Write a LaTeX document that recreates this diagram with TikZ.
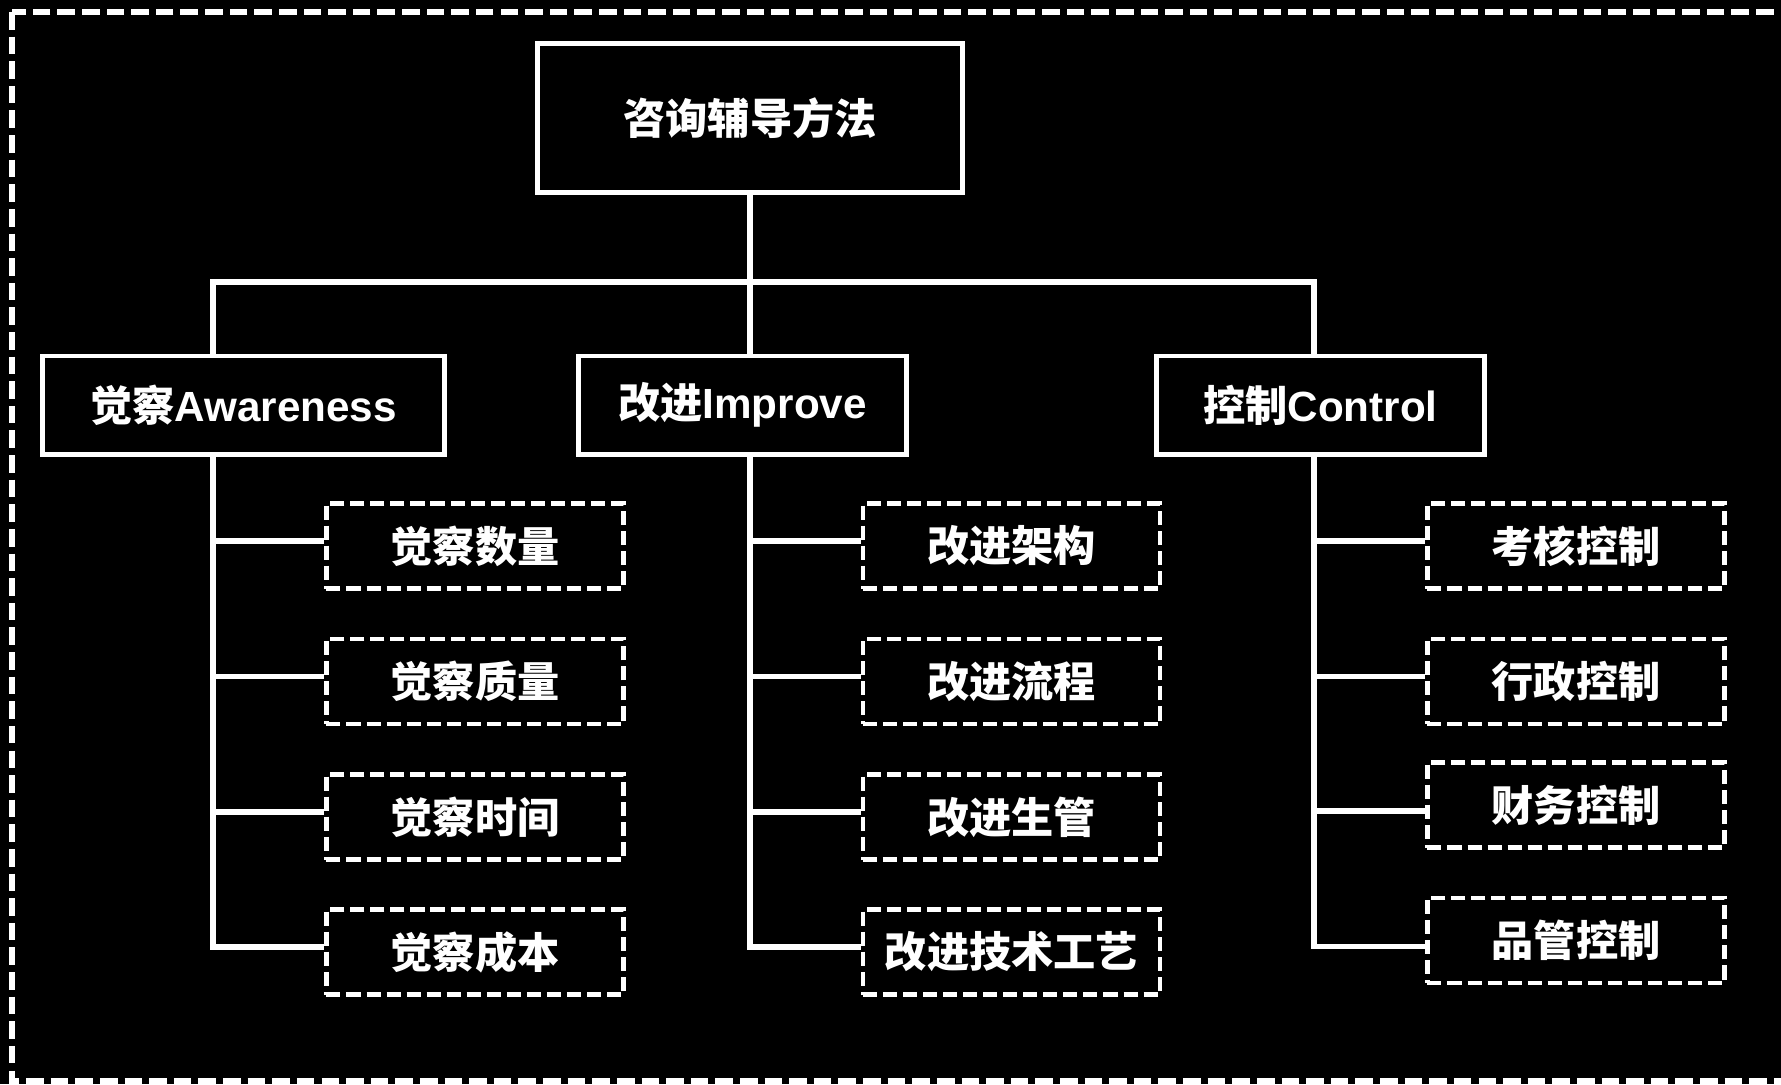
\documentclass[tikz,border=0pt]{standalone}
\usepackage{fontspec}
\setmainfont{Liberation Sans}
\newfontfamily\cjk{Noto Sans CJK SC}
\usepackage{tikz}

\begin{document}
\begin{tikzpicture}[x=0.01cm, y=-0.01cm, white, line width=1.5pt, line join=miter,
    every node/.style={text=white, font=\fontsize{12}{14}\selectfont\bfseries, inner sep=0pt},
    rootbox/.style={draw=white, fill=black, line width=1.4pt, minimum width=4.24cm, minimum height=1.49cm},
    mainbox/.style={draw=white, fill=black, line width=1.4pt, minimum height=0.98cm},
    subbox/.style={draw=white, fill=black, line width=1.25pt, dash pattern=on 4pt off 1.7pt, minimum width=2.97cm, minimum height=0.85cm}]
    \clip (0,0) rectangle (1781,1084);
    \fill[black] (0,0) rectangle (1781,1084);
    \draw[line width=1.5pt, dash pattern=on 5pt off 2pt] (12,12) rectangle (1830,1081);
    \node [rootbox] (root) at (750,118) {\cjk 咨询辅导方法};
    \node [mainbox, minimum width=4.01cm] (aw) at (243.5,405) {{\cjk 觉察}Awareness};
    \node [mainbox, minimum width=3.27cm] (im) at (742.5,405) {{\cjk 改进}Improve};
    \node [mainbox, minimum width=3.27cm] (co) at (1320.5,405) {{\cjk 控制}Control};
    \coordinate (busl) at (213,282);
    \coordinate (busr) at (1314,282);
    \node [subbox] (aw1) at (475,546) {\cjk 觉察数量};
    \node [subbox] (aw2) at (475,681.5) {\cjk 觉察质量};
    \node [subbox] (aw3) at (475,817) {\cjk 觉察时间};
    \node [subbox] (aw4) at (475,952) {\cjk 觉察成本};
    \node [subbox] (im1) at (1011.5,546) {\cjk 改进架构};
    \node [subbox] (im2) at (1011.5,681.5) {\cjk 改进流程};
    \node [subbox] (im3) at (1011.5,817) {\cjk 改进生管};
    \node [subbox] (im4) at (1011.5,952) {\cjk 改进技术工艺};
    \node [subbox] (co1) at (1576,546) {\cjk 考核控制};
    \node [subbox] (co2) at (1576,681.5) {\cjk 行政控制};
    \node [subbox] (co3) at (1576,805) {\cjk 财务控制};
    \node [subbox] (co4) at (1576,940.5) {\cjk 品管控制};
    \draw (root.south) -- (root.south |- busl);
    \draw (aw.north -| busl) -- (busl) -- (busr) -- (co.north -| busr);
    \draw (root.south |- busl) -- (im.north -| root.south);
    % side branches
    \draw (aw.south -| busl) |- ([yshift=0.05cm]aw4.west);
    \draw ([yshift=0.05cm]aw1.west) -- ([yshift=0.05cm]aw1.west -| busl);
    \draw ([yshift=0.05cm]aw2.west) -- ([yshift=0.05cm]aw2.west -| busl);
    \draw ([yshift=0.05cm]aw3.west) -- ([yshift=0.05cm]aw3.west -| busl);
    \draw (im.south -| root.south) |- ([yshift=0.05cm]im4.west);
    \draw ([yshift=0.05cm]im1.west) -- ([yshift=0.05cm]im1.west -| root.south);
    \draw ([yshift=0.05cm]im2.west) -- ([yshift=0.05cm]im2.west -| root.south);
    \draw ([yshift=0.05cm]im3.west) -- ([yshift=0.05cm]im3.west -| root.south);
    \draw (co.south -| busr) |- ([yshift=-0.06cm]co4.west);
    \draw ([yshift=0.05cm]co1.west) -- ([yshift=0.05cm]co1.west -| busr);
    \draw ([yshift=0.05cm]co2.west) -- ([yshift=0.05cm]co2.west -| busr);
    \draw ([yshift=-0.06cm]co3.west) -- ([yshift=-0.06cm]co3.west -| busr);
  \end{tikzpicture}
\end{document}
